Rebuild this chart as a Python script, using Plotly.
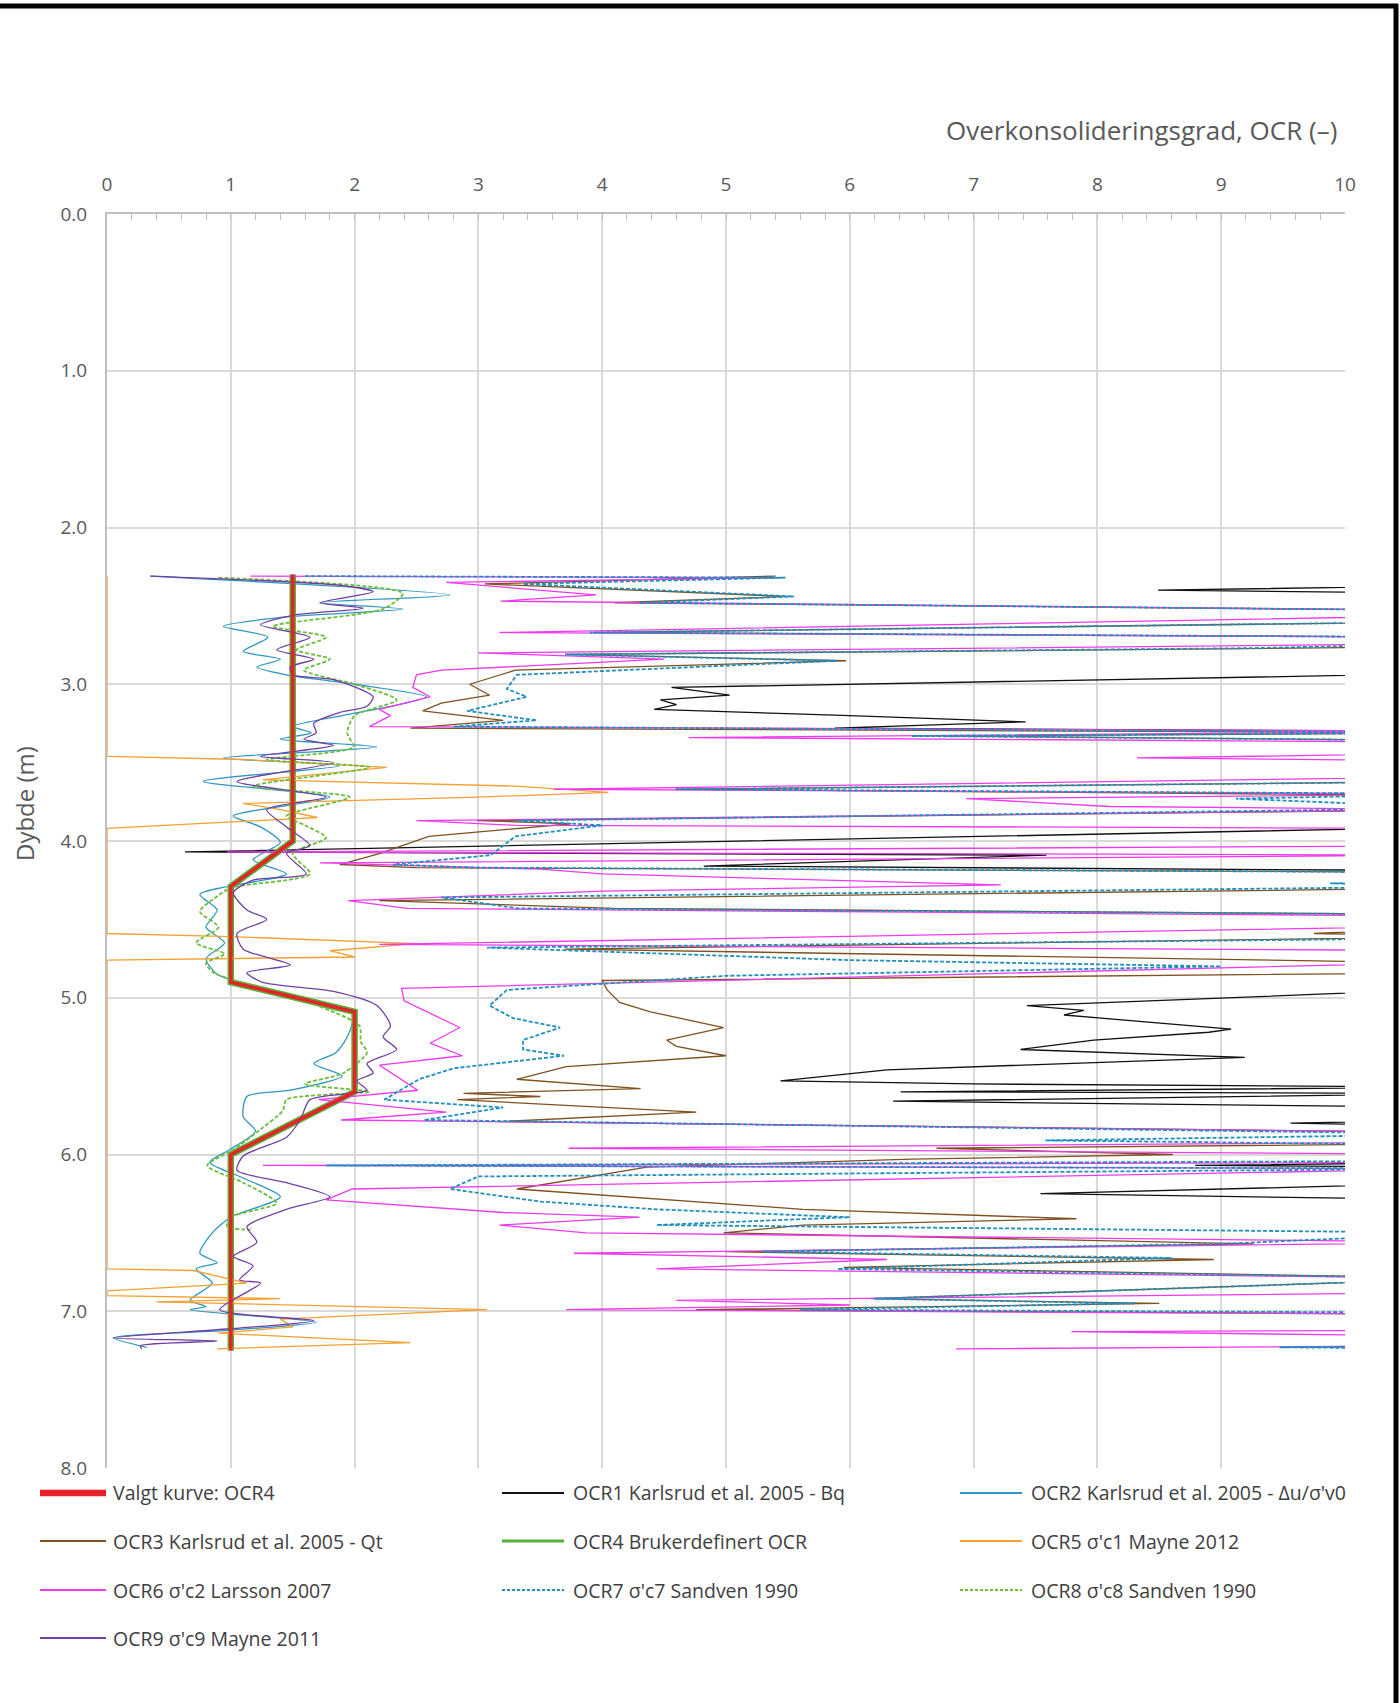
import plotly.graph_objects as go

# ---------------------------------------------------------------------------
# OCR profiles versus depth (depth in m, OCR dimensionless)
# ---------------------------------------------------------------------------
depth_valgt = [2.30, 4.00, 4.29, 4.90, 5.09, 5.60, 6.00, 7.25]
ocr_valgt = [1.5, 1.5, 1.0, 1.0, 2.0, 2.0, 1.0, 1.0]

depth_ocr1 = [2.31, 2.37, 2.40, 2.42, 2.93, 3.02, 3.07, 3.10, 3.13, 3.16, 3.20, 3.24,
              3.28, 3.30, 3.91, 4.02, 4.07, 4.09, 4.16, 4.19, 4.94, 5.05, 5.08, 5.11,
              5.20, 5.22, 5.27, 5.33, 5.38, 5.46, 5.53, 5.55, 5.57, 5.60, 5.61, 5.66,
              5.70, 5.78, 5.80, 5.82, 6.05, 6.07, 6.08, 6.18, 6.25, 6.29, 7.25]
ocr1 = [14, 11, 8.49, 11, 11, 4.56, 5.03, 4.47, 4.6, 4.42, 6.0, 7.42,
        5.88, 11, 11, 3.98, 0.63, 7.59, 4.82, 11, 11, 7.43, 7.89, 7.73,
        9.08, 8.9, 7.97, 7.38, 9.19, 6.3, 5.44, 7.0, 11, 6.41, 11, 6.35,
        11, 11, 9.56, 11, 11, 8.79, 11, 11, 7.54, 11, 14]

depth_ocr2 = [2.31, 2.43, 2.48, 2.52, 2.57, 2.63, 2.70, 2.79, 2.84, 2.89, 2.94, 3.00,
              3.08, 3.14, 3.20, 3.27, 3.31, 3.35, 3.40, 3.47, 3.52, 3.62, 3.72, 3.84,
              3.91, 4.01, 4.12, 4.21, 4.34, 4.44, 4.55, 4.65, 4.75, 4.85, 4.93, 5.02,
              5.10, 5.25, 5.35, 5.42, 5.50, 5.59, 5.63, 5.76, 5.85, 5.97, 6.05, 6.15,
              6.27, 6.40, 6.50, 6.63, 6.69, 6.73, 6.82, 6.93, 6.97, 6.99, 7.07, 7.12,
              7.17, 7.23]
ocr2 = [0.35, 2.77, 1.72, 2.39, 1.45, 0.94, 1.3, 1.10, 1.4, 1.21, 1.45, 2.0,
        2.58, 2.3, 1.9, 1.5, 1.65, 1.40, 2.18, 0.94, 1.88, 0.78, 1.80, 1.02,
        1.24, 1.40, 1.18, 1.45, 0.75, 0.89, 0.8, 0.95, 0.8, 0.89, 1.2, 1.6,
        1.99, 1.94, 1.85, 1.67, 1.9, 1.48, 1.13, 1.10, 1.2, 0.99, 0.83, 1.1,
        1.40, 1.0, 0.85, 0.75, 0.89, 0.72, 0.85, 0.67, 0.8, 0.67, 1.69, 1.0,
        0.05, 0.32]

depth_ocr3 = [2.31, 2.36, 2.44, 2.48, 2.53, 2.60, 2.67, 2.70, 2.76, 2.81, 2.85, 2.91,
              3.00, 3.07, 3.12, 3.17, 3.23, 3.28, 3.31, 3.33, 3.36, 3.62, 3.67, 3.71,
              3.80, 3.87, 3.89, 3.97, 4.08, 4.15, 4.17, 4.20, 4.30, 4.38, 4.43, 4.47,
              4.55, 4.59, 4.61, 4.69, 4.78, 4.84, 4.89, 4.95, 5.03, 5.09, 5.19, 5.27,
              5.31, 5.37, 5.44, 5.52, 5.58, 5.61, 5.63, 5.65, 5.73, 5.79, 5.86, 5.93,
              5.96, 6.00, 6.03, 6.08, 6.22, 6.35, 6.41, 6.45, 6.50, 6.57, 6.62, 6.67,
              6.72, 6.79, 6.92, 6.95, 6.99, 7.02, 7.25]
ocr3 = [5.4, 3.05, 5.5, 4.1, 11, 11, 3.95, 11, 11, 3.7, 5.97, 3.3,
        2.93, 3.09, 2.7, 2.55, 3.2, 2.45, 11, 6.76, 11, 11, 4.59, 11,
        11, 2.99, 3.75, 2.6, 2.2, 1.88, 2.5, 11, 11, 2.2, 4.1, 11,
        11, 9.75, 11, 3.7, 11, 11, 4.0, 4.04, 4.14, 4.39, 4.98, 4.52,
        4.6, 5.0, 3.71, 3.31, 4.31, 2.88, 3.5, 2.83, 4.76, 3.18, 11, 11,
        6.7, 8.61, 6.5, 4.36, 3.31, 5.62, 7.83, 5.62, 4.98, 9.26, 5.0, 8.94,
        5.95, 11, 6.17, 8.5, 4.76, 11, 14]

depth_ocr4 = [2.30, 4.00, 4.29, 4.90, 5.09, 5.60, 6.00, 7.25]
ocr4 = [1.5, 1.5, 1.0, 1.0, 2.0, 2.0, 1.0, 1.0]

depth_ocr5 = [2.31, 3.46, 3.48, 3.53, 3.61, 3.65, 3.69, 3.72, 3.76, 3.80, 3.85, 3.92,
              4.59, 4.61, 4.655, 4.70, 4.74, 4.76, 6.73, 6.74, 6.82, 6.87, 6.90, 6.92,
              6.94, 6.99, 7.05, 7.10, 7.14, 7.20, 7.24]
ocr5 = [0.0, 0.0, 1.1, 2.26, 1.26, 3.3, 4.05, 3.0, 1.1, 1.4, 1.7, 0.0,
        0.0, 1.0, 2.5, 1.8, 2.0, 0.0, 0.0, 0.7, 1.13, 0.0, 0.0, 1.4,
        0.4, 3.07, 1.4, 1.5, 0.9, 2.45, 0.89]

depth_ocr6 = [2.31, 2.32, 2.35, 2.43, 2.47, 2.53, 2.56, 2.67, 2.70, 2.74, 2.80, 2.84,
              2.91, 2.94, 3.02, 3.08, 3.16, 3.20, 3.27, 3.30, 3.34, 3.37, 3.44, 3.47,
              3.49, 3.59, 3.67, 3.70, 3.73, 3.78, 3.80, 3.87, 3.90, 3.92, 4.03, 4.07,
              4.09, 4.14, 4.18, 4.21, 4.28, 4.32, 4.38, 4.43, 4.48, 4.54, 4.66, 4.70,
              4.77, 4.94, 5.02, 5.19, 5.29, 5.37, 5.43, 5.59, 5.65, 5.73, 5.78, 5.86,
              5.92, 5.96, 6.00, 6.05, 6.07, 6.09, 6.22, 6.29, 6.37, 6.40, 6.45, 6.50,
              6.56, 6.63, 6.67, 6.73, 6.79, 6.88, 6.93, 6.96, 6.99, 7.02, 7.12, 7.13,
              7.16, 7.22, 7.24]
ocr6 = [1.16, 5.45, 2.74, 3.95, 3.18, 11, 11, 3.17, 11, 11, 3.0, 4.5,
        2.7, 2.5, 2.47, 2.61, 2.2, 2.29, 2.12, 11, 4.7, 11, 11, 8.32,
        11, 11, 3.61, 11, 6.94, 8.1, 11, 2.5, 3.3, 11, 11, 0.97,
        11, 1.72, 3.5, 4.0, 7.22, 4.0, 1.95, 2.42, 11, 11, 2.2, 11,
        11, 2.38, 2.40, 2.85, 2.61, 2.87, 2.2, 2.51, 1.71, 2.74, 1.89, 11,
        11, 3.73, 11, 11, 1.26, 11, 1.98, 1.77, 3.2, 4.3, 3.17, 3.87,
        11, 3.77, 6.3, 4.44, 11, 11, 4.6, 6.0, 3.71, 11, 11, 7.79,
        11, 11, 6.86]

depth_ocr7 = [2.31, 2.32, 2.36, 2.44, 2.48, 2.53, 2.60, 2.67, 2.70, 2.74, 2.77, 2.81,
              2.85, 2.94, 3.03, 3.08, 3.17, 3.23, 3.27, 3.31, 3.33, 3.36, 3.62, 3.67,
              3.70, 3.73, 3.79, 3.87, 3.90, 3.97, 4.09, 4.15, 4.17, 4.20, 4.26, 4.27,
              4.29, 4.36, 4.43, 4.47, 4.55, 4.62, 4.68, 4.76, 4.80, 4.86, 4.95, 5.05,
              5.13, 5.19, 5.27, 5.33, 5.37, 5.45, 5.52, 5.65, 5.70, 5.78, 5.87, 5.91,
              5.94, 6.04, 6.07, 6.09, 6.14, 6.22, 6.30, 6.35, 6.40, 6.45, 6.50, 6.57,
              6.62, 6.66, 6.73, 6.79, 6.92, 6.95, 6.99, 7.01, 7.22, 7.23, 7.24]
ocr7 = [1.6, 5.48, 3.36, 5.55, 4.3, 11, 11, 3.9, 11, 11, 9.21, 3.7,
        5.9, 3.31, 3.23, 3.39, 2.91, 3.47, 2.8, 11, 6.5, 11, 11, 4.6,
        11, 9.12, 11, 3.31, 4.0, 3.3, 3.1, 2.31, 3.0, 11, 11, 9.88,
        11, 2.7, 3.32, 11, 11, 11, 3.07, 6.0, 9.0, 5.0, 3.23, 3.09,
        3.28, 3.66, 3.36, 3.36, 3.69, 2.80, 2.52, 2.24, 3.2, 2.56, 11, 7.58,
        11, 11, 1.77, 11, 3.0, 2.77, 3.5, 4.44, 6.0, 4.44, 11, 9.0,
        5.3, 8.6, 5.9, 11, 6.2, 8.3, 5.6, 11, 11, 9.47, 11]

depth_ocr8 = [2.32, 2.42, 2.52, 2.63, 2.70, 2.78, 2.84, 2.91, 3.00, 3.10, 3.20, 3.31,
              3.40, 3.48, 3.53, 3.65, 3.72, 3.84, 3.90, 3.98, 4.08, 4.21, 4.30, 4.37,
              4.45, 4.55, 4.65, 4.72, 4.78, 4.84, 4.95, 5.05, 5.18, 5.28, 5.35, 5.48,
              5.55, 5.60, 5.65, 5.72, 5.84, 5.97, 6.07, 6.18, 6.31, 6.40, 6.46, 6.48]
ocr8 = [0.9, 2.39, 2.23, 1.34, 1.77, 1.53, 1.80, 1.59, 2.0, 2.34, 2.0, 1.94,
        1.99, 1.29, 2.12, 1.18, 1.96, 1.45, 1.6, 1.77, 1.5, 1.64, 1.0, 0.86,
        0.75, 0.9, 0.72, 0.95, 0.8, 0.86, 1.3, 1.7, 2.04, 2.05, 2.10, 1.91,
        1.6, 2.12, 1.45, 1.42, 1.24, 1.02, 0.81, 1.1, 1.37, 1.0, 0.97, 1.16]

depth_ocr9 = [2.31, 2.37, 2.41, 2.48, 2.515, 2.56, 2.62, 2.70, 2.78, 2.84, 2.89, 2.94,
              2.97, 3.08, 3.14, 3.18, 3.25, 3.31, 3.35, 3.39, 3.46, 3.50, 3.62, 3.72,
              3.80, 3.91, 4.03, 4.08, 4.21, 4.25, 4.33, 4.44, 4.50, 4.59, 4.69, 4.79,
              4.84, 4.90, 4.96, 5.05, 5.18, 5.25, 5.33, 5.42, 5.48, 5.53, 5.59, 5.65,
              5.78, 5.89, 6.01, 6.10, 6.18, 6.27, 6.35, 6.46, 6.56, 6.65, 6.71, 6.80,
              6.82, 6.99, 7.06, 7.11, 7.17, 7.19, 7.22, 7.24]
ocr9 = [0.35, 1.9, 2.15, 1.72, 2.07, 1.5, 1.24, 1.64, 1.37, 1.67, 1.48, 1.5,
        1.83, 2.15, 2.1, 1.88, 1.67, 1.69, 1.59, 1.83, 1.24, 1.83, 1.05, 1.77,
        1.29, 1.45, 1.64, 1.45, 1.61, 1.18, 1.02, 1.13, 1.29, 1.05, 1.10, 1.48,
        1.13, 1.25, 1.83, 2.18, 2.29, 2.23, 2.34, 2.10, 2.15, 2.02, 2.10, 1.64,
        1.56, 1.45, 1.10, 1.05, 1.45, 1.80, 1.45, 1.13, 1.21, 1.02, 1.18, 1.07,
        1.24, 0.91, 1.67, 1.02, 0.05, 0.89, 0.27, 0.28]

# x-axis tick labels (OCR) and y-axis tick labels (depth)
ocr_ticks = list(range(0, 11))
depth_ticks = [0, 1, 2, 3, 4, 5, 6, 7, 8]

# ---------------------------------------------------------------------------
# Series styling: (name, depth, ocr, colour, dash, width, shape)
# ---------------------------------------------------------------------------
series = [
    ("OCR1 Karlsrud et al. 2005 - Bq", depth_ocr1, ocr1, "#111111", "solid", 1.3, "linear"),
    ("OCR2 Karlsrud et al. 2005 - \u0394u/\u03c3'v0", depth_ocr2, ocr2, "#2f97c1", "solid", 1.3, "spline"),
    ("OCR3 Karlsrud et al. 2005 - Qt", depth_ocr3, ocr3, "#7f5020", "solid", 1.3, "linear"),
    ("OCR4 Brukerdefinert OCR", depth_ocr4, ocr4, "#55b030", "solid", 6.5, "linear"),
    ("OCR5 \u03c3'c1 Mayne 2012", depth_ocr5, ocr5, "#f5a030", "solid", 1.3, "linear"),
    ("OCR6 \u03c3'c2 Larsson 2007", depth_ocr6, ocr6, "#ee3aee", "solid", 1.3, "linear"),
    ("OCR7 \u03c3'c7 Sandven 1990", depth_ocr7, ocr7, "#1f8fbf", "4px,2px", 1.8, "linear"),
    ("OCR8 \u03c3'c8 Sandven 1990", depth_ocr8, ocr8, "#6abf3c", "4px,2px", 1.8, "spline"),
    ("OCR9 \u03c3'c9 Mayne 2011", depth_ocr9, ocr9, "#7040a0", "solid", 1.3, "spline"),
]

fig = go.Figure()
for name, d, v, color, dash, width, shape in series:
    line = dict(color=color, width=width, dash=dash, shape=shape)
    if shape == "spline":
        line["smoothing"] = 0.7
    fig.add_trace(go.Scatter(x=v, y=d, mode="lines", name=name, showlegend=False, line=line))

fig.add_trace(go.Scatter(x=ocr_valgt, y=depth_valgt, mode="lines", name="Valgt kurve: OCR4",
                         showlegend=False, line=dict(color="#e8202a", width=3.5)))

# ---------------------------------------------------------------------------
# Layout geometry (pixels)
# ---------------------------------------------------------------------------
W, H = 1400, 1703
L, R, T, B = 107, 55, 214, 235
PW, PH = W - L - R, H - T - B


def px_x(px):
    return (px - L) / PW


def px_y(py):
    return (H - B - py) / PH


FONT = "'Open Sans', 'Noto Sans', sans-serif"
TXT = "#595959"

fig.update_layout(
    width=W, height=H, autosize=False,
    margin=dict(l=L, r=R, t=T, b=B, pad=0),
    paper_bgcolor="white", plot_bgcolor="white",
    font=dict(family=FONT, color=TXT, size=18),
    showlegend=False,
)

fig.update_xaxes(
    side="top", range=[0, 10], tickvals=ocr_ticks, ticktext=[str(t) for t in ocr_ticks],
    showgrid=True, gridcolor="#d9d9d9", gridwidth=1.5,
    showline=True, linecolor="#bfbfbf", linewidth=2,
    ticks="inside", ticklen=6, tickcolor="#bfbfbf", tickwidth=1.2,
    minor=dict(dtick=0.2, ticks="inside", ticklen=6, tickcolor="#bfbfbf", tickwidth=1.2, showgrid=False),
    zeroline=False, tickfont=dict(size=19, color=TXT), ticklabelstandoff=13,
)
fig.update_yaxes(
    range=[8, 0], tickvals=depth_ticks, ticktext=[f"{t:.1f}" for t in depth_ticks],
    showgrid=True, gridcolor="#d9d9d9", gridwidth=1.5,
    showline=True, linecolor="#bfbfbf", linewidth=2,
    ticks="", zeroline=False, tickfont=dict(size=19, color=TXT), ticklabelstandoff=14,
)

annotations = [
    dict(text="Overkonsolideringsgrad, OCR (\u2013)", xref="paper", yref="paper",
         x=px_x(1339), y=px_y(130), xanchor="right", yanchor="middle", showarrow=False,
         font=dict(size=26, color=TXT, family=FONT)),
    dict(text="Dybde (m)", xref="paper", yref="paper", x=px_x(24), y=px_y(804),
         xanchor="center", yanchor="middle", textangle=-90, showarrow=False,
         font=dict(size=24, color=TXT, family=FONT)),
]

# ---------------------------------------------------------------------------
# Legend: three columns, four rows beneath the plot
# ---------------------------------------------------------------------------
legend_entries = [
    ("Valgt kurve: OCR4", "#e8202a", "solid", 6.5),
    (series[0][0], series[0][3], "solid", 2),
    (series[1][0], series[1][3], "solid", 2),
    (series[2][0], series[2][3], "solid", 2),
    (series[3][0], series[3][3], "solid", 3),
    (series[4][0], series[4][3], "solid", 2),
    (series[5][0], series[5][3], "solid", 2),
    (series[6][0], series[6][3], "3px,2px", 2.2),
    (series[7][0], series[7][3], "3px,2px", 2.2),
    (series[8][0], series[8][3], "solid", 2),
]
col_line_x = [(40, 106), (502, 564), (960, 1022)]
col_text_x = [111, 571, 1029]
row_y = [1493, 1541, 1590, 1638]

shapes = []
for i, (label, color, dash, width) in enumerate(legend_entries):
    r, c = divmod(i, 3)
    x0, x1 = col_line_x[c]
    yy = px_y(row_y[r])
    shapes.append(dict(type="line", xref="paper", yref="paper", x0=px_x(x0), x1=px_x(x1),
                       y0=yy, y1=yy, line=dict(color=color, width=width, dash=dash)))
    annotations.append(dict(text=label, xref="paper", yref="paper", x=px_x(col_text_x[c]), y=yy,
                            xanchor="left", yanchor="middle", showarrow=False,
                            font=dict(size=19.5, color="#404040", family=FONT)))

# frame lines along the top and right edge of the page
shapes.append(dict(type="line", xref="paper", yref="paper", x0=px_x(0), x1=px_x(1398),
                   y0=px_y(6), y1=px_y(6), line=dict(color="black", width=5)))
shapes.append(dict(type="line", xref="paper", yref="paper", x0=px_x(1396), x1=px_x(1396),
                   y0=px_y(4), y1=px_y(1703), line=dict(color="black", width=5)))

fig.update_layout(annotations=annotations, shapes=shapes)

fig.write_html("out.html")
